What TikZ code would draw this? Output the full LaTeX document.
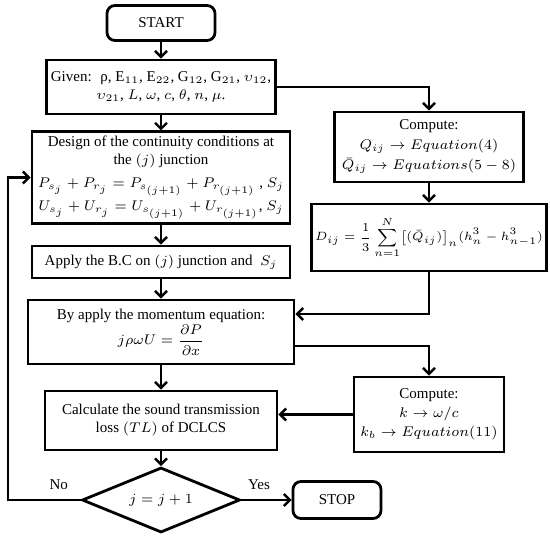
\documentclass[tikz,border=0pt]{standalone}
\usepackage{amsmath}
\usepackage{fontspec}
\setmainfont{Liberation Serif}
\usetikzlibrary{arrows.meta, shapes.geometric}

\begin{document}
\begin{tikzpicture}[x=0.5pt, y=-0.5pt, font=\fontsize{7.5}{9}\selectfont,
  box/.style={draw, line width=1.4pt, align=center, inner sep=2pt},
  term/.style={box, rounded corners=4pt},
  flow/.style={line width=1.2pt, -{Straight Barb[length=3pt,width=6pt]}}]
\useasboundingbox (0,0) rectangle (550,535);

% main column
\node[term, minimum width=54pt, minimum height=17.5pt] (start) at (161,23) {START};
\node[box, minimum width=105pt, minimum height=27pt] (given) at (161,87)
  {Given:~ ρ, E$_{11}$, E$_{22}$, G$_{12}$, G$_{21}$, $\upsilon_{12}$,\\
   $\upsilon_{21}$, $L$, $\omega$, $c$, $\theta$, $n$, $\mu$.};
\node[box, minimum width=129pt, minimum height=45.5pt] (design) at (161,177.5)
  {Design of the continuity conditions at\\ the $(j)$ junction\\[2.5pt]
   $P_{s_j}+P_{r_j}=P_{s_{(j+1)}}+P_{r_{(j+1)}}$ , $S_j$\\[1.5pt]
   $U_{s_j}+U_{r_j}=U_{s_{(j+1)}}+U_{r_{(j+1)}}$, $S_j$};
\node[box, minimum width=129pt, minimum height=16pt] (apply) at (161,262)
  {Apply the B.C on $(j)$ junction and~ $S_j$};
\node[box, minimum width=133pt, minimum height=32pt] (moment) at (161,332)
  {By apply the momentum equation:\\ $j\rho\omega U=\dfrac{\partial P}{\partial x}$};
\node[box, minimum width=116pt, minimum height=29.5pt] (stl) at (161,420.5)
  {Calculate the sound transmission\\ loss $(TL)$ of DCLCS};
\node[draw, diamond, line width=1.4pt, aspect=2.4, inner sep=0pt,
  minimum width=79pt, minimum height=32.5pt] (check) at (161,500) {$j=j+1$};
\node[term, minimum width=44pt, minimum height=18.5pt] (stop) at (337,500) {STOP};

% side column
\node[box, minimum width=94.5pt, minimum height=35pt] (comp1) at (429,147)
  {Compute:\\[1pt] $Q_{ij}\rightarrow Equation(4)$\\[1pt] $\bar{Q}_{ij}\rightarrow Equations(5-8)$};
\node[box, minimum width=114pt, minimum height=33.5pt, font=\fontsize{6.2}{7.5}\selectfont] (dij) at (429,237.5)
  {$D_{ij}=\dfrac{1}{3}\displaystyle\sum_{n=1}^{N}\bigl[(\bar{Q}_{ij})\bigr]_n(h_n^3-h_{n-1}^3)$};
\node[box, minimum width=75pt, minimum height=37.5pt] (comp2) at (429,414.5)
  {Compute:\\[0.5pt] $k\rightarrow\omega/c$\\[0.5pt] $k_b\rightarrow Equation(11)$};

% joints
\coordinate (min) at (moment.east |- 0,314);
\coordinate (mout) at (moment.east |- 0,346);
\coordinate (cin) at (comp2.west -| stl.east);
\coordinate (loop) at (8,500);

% connectors
\draw[flow] (start) -- (given);
\draw[flow] (given) -- (design);
\draw[flow] (design) -- (apply);
\draw[flow] (apply) -- (moment);
\draw[flow] (moment) -- (stl);
\draw[flow] (stl) -- (check);
\draw[flow] (given.east) -| (comp1.north);
\draw[flow] (comp1) -- (dij);
\draw[flow] (dij.south) |- (min);
\draw[flow] (mout) -| (comp2.north);
\draw[flow] (comp2.west) -- (cin);
\draw[flow] (check.east) -- node[pos=0.35, above=1pt] {Yes} (stop.west);
\draw[flow] (check.west) -- node[pos=0.3, above=1pt] {No} (loop) |- (design.west);
\end{tikzpicture}
\end{document}
